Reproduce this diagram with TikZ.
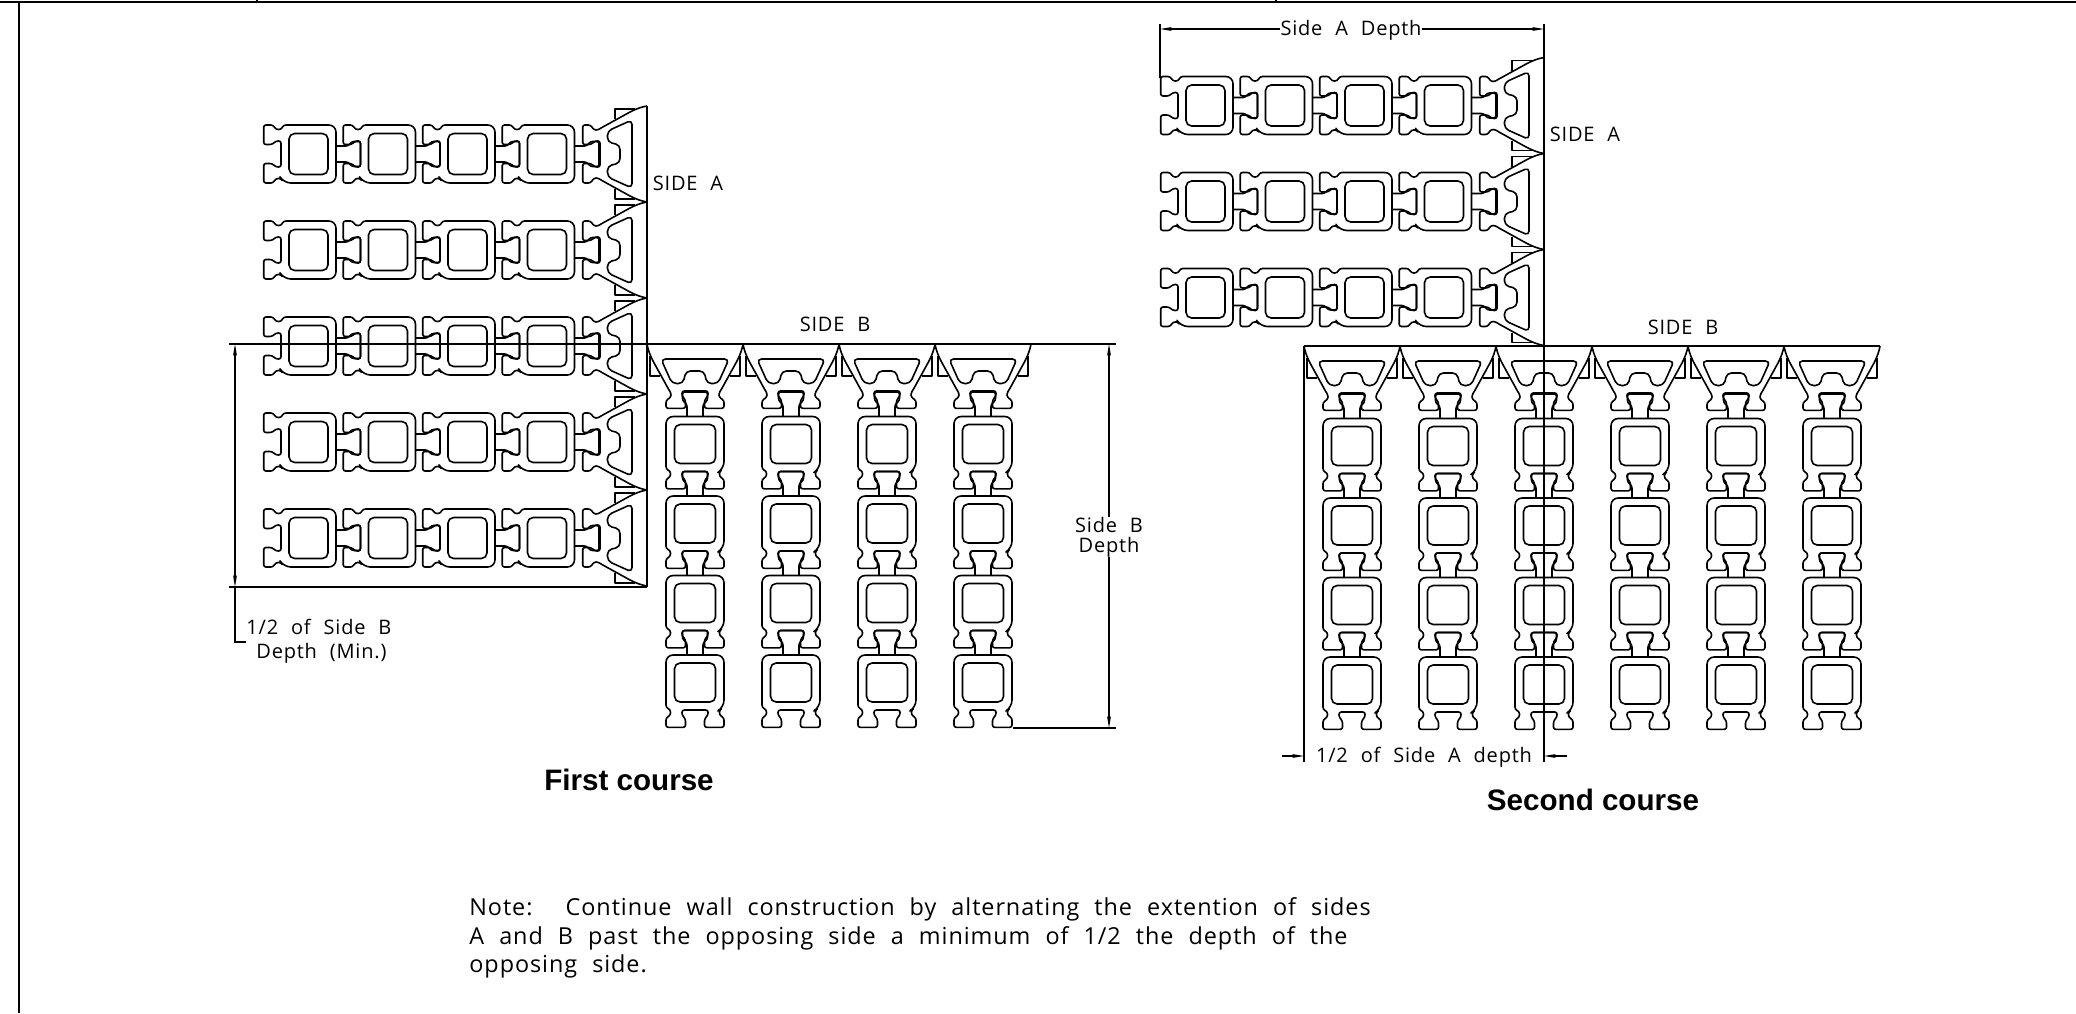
\documentclass[tikz,border=0pt]{standalone}
\usepackage{fontspec}
\usetikzlibrary{arrows.meta}
\setmainfont{Liberation Sans}
\newfontfamily\cadfont[LetterSpace=4,WordSpace=1.8]{Open Sans}
\newfontfamily\notefont[LetterSpace=4,WordSpace=2.15]{Open Sans}
\tikzset{
  ln/.style={line width=0.8pt,black,line join=round},
  frame/.style={line width=1.1pt,black},
  dim/.style={line width=0.7pt,black},
  dimarrow/.style={line width=0.7pt,black,{Stealth[length=6pt,width=2pt]}-{Stealth[length=6pt,width=2pt]}},
  onearrow/.style={line width=0.7pt,black,-{Stealth[length=6pt,width=2pt]}},
  cad/.style={inner sep=0pt,font=\cadfont\fontsize{10}{12}\selectfont,black},
  cadnote/.style={inner sep=0pt,font=\notefont\fontsize{11.7}{13}\selectfont,black,anchor=base west},
  title/.style={inner sep=0pt,font=\bfseries\fontsize{14.8}{17}\selectfont,black},
}
\newcommand{\bodyblk}{%
    \draw[ln] (-29,30) [rounded corners=3.6pt] -- (-29,0) -- (29,0) -- (29,52.3) [rounded corners=1.1pt]
      -- (24.5,55) -- (24.5,60) -- (29,63) -- (29,72.3) -- (9.5,72.3) -- (9.5,64) -- (13,60) -- (13,55)
      -- (-13,55) -- (-13,60) -- (-9.5,64) -- (-9.5,72.3) -- (-29,72.3) -- (-29,63) -- (-24.5,60) -- (-24.5,55)
      -- (-29,52.3) -- cycle;
    \draw[ln,rounded corners=2.8pt] (-20.5,8) rectangle (20.5,47);
    \draw[ln,rounded corners=1.1pt] (-8,0) -- (-8,-12) -- (-12.5,-16) -- (-12.5,-24.5) -- (12.5,-24.5) -- (12.5,-16) -- (8,-12) -- (8,0);
}
\newcommand{\wedgeblk}{%
    \draw[ln] (-48,0) -- (48,0);
    \draw[ln] (-48,0) .. controls (-47,6) and (-45,11) .. (-42,17) -- (-26,46) [rounded corners=1.1pt]
      -- (-24,49) -- (-24,53) -- (-29,56.5) -- (-29,64.3) -- (-9.5,64.3) -- (-9.5,56) -- (-13,52) -- (-13,47)
      -- (13,47) -- (13,52) -- (9.5,56) -- (9.5,64.3) -- (29,64.3) -- (29,56.5) -- (24,53) -- (24,49) -- (26,46) [sharp corners]
      -- (42,17) .. controls (45,11) and (47,6) .. (48,0);
    \draw[ln,rounded corners=2.2pt] (-34,15) -- (34,15) -- (23,39.5) -- (12,39.5) -- (9,27) -- (-9,27) -- (-12,39.5) -- (-23,39.5) -- cycle;
    \draw[ln] (-45,12) -- (-45,32) -- (-35,32);
    \draw[ln] (45,12) -- (45,32) -- (35,32);
}
\newcommand{\blockcol}{%
    \wedgeblk
    \foreach \t in {72.5,152,231.5,311} {\begin{scope}[shift={(0,\t)}]\bodyblk\end{scope}}
}
\begin{document}
\begin{tikzpicture}[x=0.5pt,y=-0.5pt]
\useasboundingbox (0,0) rectangle (2076,1013);
% sheet frame
\draw[frame] (0,2) -- (2076,2);
\draw[frame] (19,2) -- (19,1013);
\draw[frame] (257,0) -- (257,3);
\draw[frame] (1276,0) -- (1276,3);
% first course
\foreach \c in {154,250,346,442,538} {\begin{scope}[shift={(647,\c)},rotate=-90]\blockcol\end{scope}}
\foreach \c in {695,791,887,983} {\begin{scope}[shift={(\c,344)}]\blockcol\end{scope}}
% second course
\foreach \c in {105.5,201.5,297.5} {\begin{scope}[shift={(1544,\c)},rotate=-90]\blockcol\end{scope}}
\foreach \c in {1352,1448,1544,1640,1736,1832} {\begin{scope}[shift={(\c,346)}]\blockcol\end{scope}}
% coordinates for dimensions, first course
\coordinate (a1) at (229,344);
\coordinate (a2) at (1116,344);
\coordinate (a3) at (229,587);
\coordinate (a4) at (647,587);
\coordinate (a5) at (647,106);
\coordinate (d1) at (235,344);
\coordinate (d2) at (235,587);
\coordinate (d3) at (235,642);
\coordinate (d4) at (246,642);
\coordinate (b1) at (1013,728);
\coordinate (b2) at (1116,728);
\coordinate (b3) at (1109,344);
\coordinate (b4) at (1109,728);
\draw[dim] (a1) -- (a2);
\draw[dim] (a3) -- (a4);
\draw[dim] (a5) -- (a4);
\draw[dimarrow] (d1) -- (d2);
\draw[dim] (d2) -- (d3) -- (d4);
\draw[dim] (b1) -- (b2);
% labels, first course
\node[cad] (sa1) at (688,183) {SIDE A};
\node[cad] (sb1) at (835,324) {SIDE B};
\node[cad] (bd1) at (1109,525) {Side B};
\node[cad] (bd2) at (1109,547) {Depth};
\draw[onearrow] (bd1.north -| b3) -- (b3);
\draw[onearrow] (bd2.south -| b4) -- (b4);
\node[cad,anchor=west] (h1) at (246,627) {1/2 of Side B};
\node[cad,anchor=west] (h2) at (256,653) {Depth (Min.)};
\node[title] (t1) at (629,780) {First course};
% second course dimensions
\coordinate (c1) at (1160,24);
\coordinate (c2) at (1160,78);
\coordinate (c3) at (1544,24);
\coordinate (c4) at (1544,762);
\coordinate (c5) at (1304,346);
\coordinate (c6) at (1304,762);
\coordinate (c7) at (1160,29);
\coordinate (c8) at (1544,29);
\coordinate (c9) at (1282,756);
\coordinate (c10) at (1567,756);
\coordinate (c11) at (1304,756);
\coordinate (c12) at (1544,756);
\draw[dim] (c1) -- (c2);
\draw[dim] (c3) -- (c4);
\draw[dim] (c5) -- (c6);
\node[cad] (sd) at (1351,30) {Side A Depth};
\draw[onearrow] (sd.west |- c7) -- (c7);
\draw[onearrow] (sd.east |- c8) -- (c8);
\node[cad] (ha) at (1424,757.5) {1/2 of Side A depth};
\draw[onearrow] (c9) -- (c11);
\draw[onearrow] (c10) -- (c12);
\node[cad] (sa2) at (1585,134) {SIDE A};
\node[cad] (sb2) at (1683,327) {SIDE B};
\node[title] (t2) at (1593,800) {Second course};
% note
\node[cadnote] (n1) at (469,915.5) {Note:\ \ \hspace{1.5pt}Continue wall construction by alternating the extention of sides};
\node[cadnote] (n2) at (469,944.5) {A and B past the opposing side a minimum of 1/2 the depth of the};
\node[cadnote] (n3) at (469,972.5) {opposing side.};
\end{tikzpicture}
\end{document}
